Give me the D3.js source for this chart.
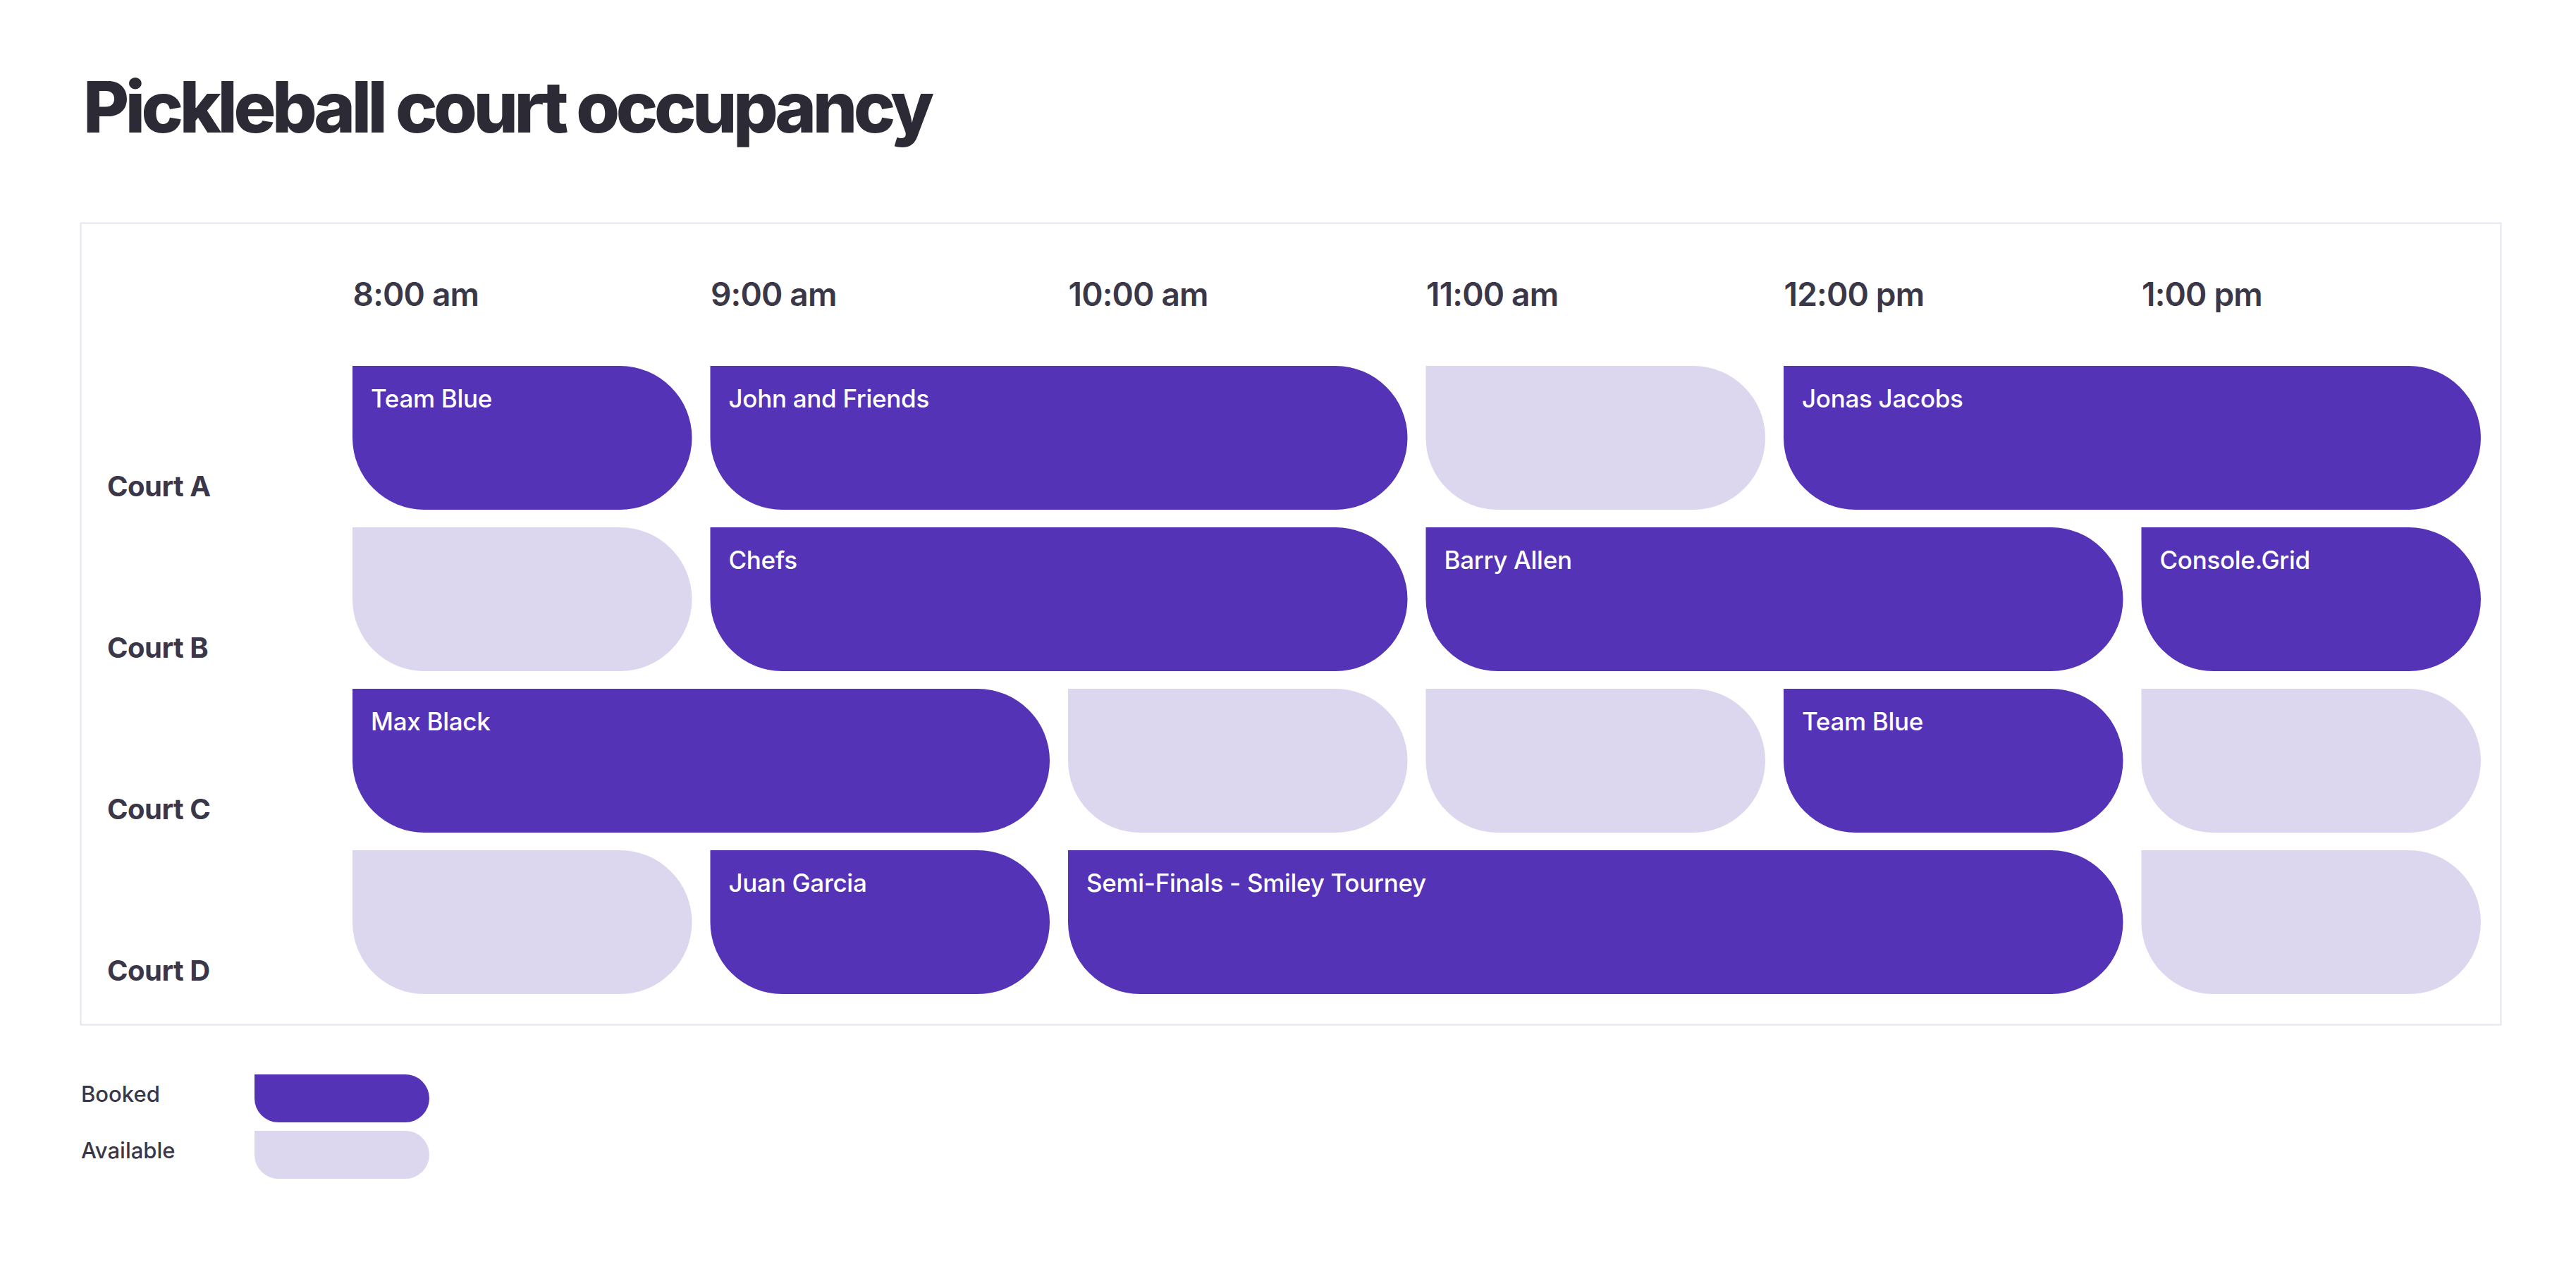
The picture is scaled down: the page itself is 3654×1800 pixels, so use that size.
<!DOCTYPE html>
<html>
<head>
<meta charset="utf-8">
<script src="https://cdn.jsdelivr.net/npm/d3@7"></script>
<style>
  html, body { margin: 0; padding: 0; background: #ffffff; }
  svg { display: block; font-family: Inter, "Noto Sans", sans-serif; }
</style>
</head>
<body>
<svg id="chart" width="3654" height="1800"></svg>
<script>
// ---- data ----
const courts = ["Court A", "Court B", "Court C", "Court D"];
const hourTicks = [8, 9, 10, 11, 12, 13];
const tickLabels = ["8:00 am", "9:00 am", "10:00 am", "11:00 am", "12:00 pm", "1:00 pm"];
const slotCourt = ["Court A","Court A","Court A","Court A",
                   "Court B","Court B","Court B","Court B",
                   "Court C","Court C","Court C","Court C","Court C",
                   "Court D","Court D","Court D","Court D"];
const slotStart = [8, 9, 11, 12,   8, 9, 11, 13,   8, 10, 11, 12, 13,   8, 9, 10, 13];
const slotEnd   = [9, 11, 12, 14,  9, 11, 13, 14,  10, 11, 12, 13, 14,  9, 10, 13, 14];
const slotName  = ["Team Blue", "John and Friends", "", "Jonas Jacobs",
                   "", "Chefs", "Barry Allen", "Console.Grid",
                   "Max Black", "", "", "Team Blue", "",
                   "", "Juan Garcia", "Semi-Finals - Smiley Tourney", ""];
const slotStatus = ["Booked","Booked","Available","Booked",
                    "Available","Booked","Booked","Booked",
                    "Booked","Available","Available","Booked","Available",
                    "Available","Booked","Booked","Available"];
const legendItems = ["Booked", "Available"];
const title = "Pickleball court occupancy";

const slots = slotCourt.map((c, i) => ({court: c, start: slotStart[i], end: slotEnd[i], name: slotName[i], status: slotStatus[i]}));

// ---- styles ----
const color = d3.scaleOrdinal().domain(legendItems).range(["#5433b7", "#dcd6ef"]);
const textDark = "#2b2a35";
const textMid = "#3a3848";

const svg = d3.select("#chart");

// title
svg.append("text")
  .attr("x", 118).attr("y", 188)
  .attr("font-size", 100).attr("font-weight", 800)
  .attr("fill", textDark)
  .attr("letter-spacing", -4)
  .attr("textLength", 1203).attr("lengthAdjust", "spacing")
  .text(title);

// frame
svg.append("rect")
  .attr("x", 114.5).attr("y", 316.5)
  .attr("width", 3433).attr("height", 1137)
  .attr("fill", "none").attr("stroke", "#e6e5ee").attr("stroke-width", 2);

// scales
const x = d3.scaleLinear().domain([8, 14]).range([500, 3545]);
const gapX = 26;
const y = d3.scaleBand().domain(courts).range([519, 1410]).paddingInner(25 / 229).paddingOuter(0);
const bh = y.bandwidth();
const yPos = c => y(c);

// top axis (time labels)
const xAxis = d3.axisTop(x).tickValues(hourTicks).tickFormat((d, i) => tickLabels[i]).tickSize(0).tickPadding(0);
const gx = svg.append("g").attr("transform", "translate(0,434)").call(xAxis);
gx.select(".domain").remove();
gx.selectAll("text")
  .attr("text-anchor", "start")
  .attr("dy", 0)
  .attr("font-family", "Inter, 'Noto Sans', sans-serif")
  .attr("font-size", 46).attr("font-weight", 600)
  .attr("letter-spacing", -0.8)
  .attr("fill", textMid);

// court labels
svg.append("g").selectAll("text").data(courts).join("text")
  .attr("x", 152)
  .attr("y", d => yPos(d) + bh - 19)
  .attr("font-size", 40).attr("font-weight", 700)
  .attr("fill", textMid)
  .attr("letter-spacing", -0.5)
  .text(d => d);

function pill(x0, y0, w, h) {
  const r = Math.min(h / 2, w / 2);
  return `M${x0},${y0} H${x0 + w - r} A${r},${r} 0 0 1 ${x0 + w},${y0 + r} V${y0 + h - r} A${r},${r} 0 0 1 ${x0 + w - r},${y0 + h} H${x0 + r} A${r},${r} 0 0 1 ${x0},${y0 + h - r} Z`;
}

// bars
const g = svg.append("g");
g.selectAll("path").data(slots).join("path")
  .attr("d", d => pill(x(d.start), yPos(d.court), x(d.end) - x(d.start) - gapX, bh))
  .attr("fill", d => color(d.status));

g.selectAll("text").data(slots.filter(d => d.name)).join("text")
  .attr("x", d => x(d.start) + 26)
  .attr("y", d => yPos(d.court) + 59)
  .attr("font-size", 35).attr("font-weight", 500)
  .attr("letter-spacing", -0.3)
  .attr("fill", "#ffffff")
  .text(d => d.name);

// legend
const lg = svg.append("g");
legendItems.forEach((k, i) => {
  const ly = 1524 + i * 80;
  lg.append("text").attr("x", 115).attr("y", ly + 39)
    .attr("font-size", 31).attr("font-weight", 500).attr("fill", textMid).text(k);
  lg.append("path").attr("d", pill(361, ly, 248, 68)).attr("fill", color(k));
});
</script>
</body>
</html>
